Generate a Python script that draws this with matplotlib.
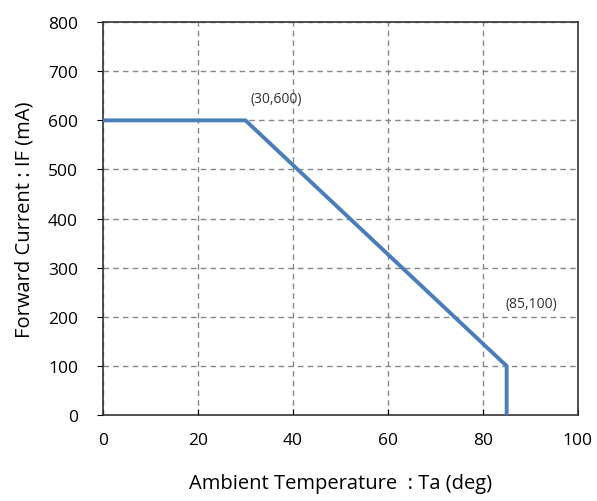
import matplotlib
matplotlib.use('Agg')
import matplotlib.pyplot as plt

plt.rcParams['font.family'] = ['Open Sans', 'DejaVu Sans']

# derating curve
temp = [0, 30, 85, 85]
current = [600, 600, 100, 0]
notes = ['(30,600)', '(85,100)']
note_pos = [(36.5, 644), (90.3, 228)]

fig = plt.figure(figsize=(5.97, 5.02), dpi=100)
ax = fig.add_axes([0.1725, 0.171, 0.7955, 0.783])

ax.plot(temp, current, color='#4a7ebb', lw=2.8, solid_capstyle='butt', zorder=3)
for t, (px, py) in zip(notes, note_pos):
    ax.text(px, py, t, ha='center', va='center', fontsize=10, color='#333333')

ax.set_xlim(0, 100)
ax.set_ylim(0, 800)
ax.set_xticks(range(0, 101, 20))
ax.set_yticks(range(0, 801, 100))
ax.grid(True, color='#888888', ls=(0, (4, 3)), lw=1)
ax.tick_params(axis='x', direction='in', length=4, pad=12, labelsize=12.5)
ax.tick_params(axis='y', direction='out', length=4, pad=14, labelsize=12.5)
for s in ax.spines.values():
    s.set_color('#333333')
    s.set_linewidth(1.2)

ax.set_xlabel('Ambient Temperature  : Ta (deg)', fontsize=14.5, labelpad=18)
ax.set_ylabel('Forward Current : IF (mA)', fontsize=14.5, labelpad=10)

fig.savefig('out.png', dpi=100)
